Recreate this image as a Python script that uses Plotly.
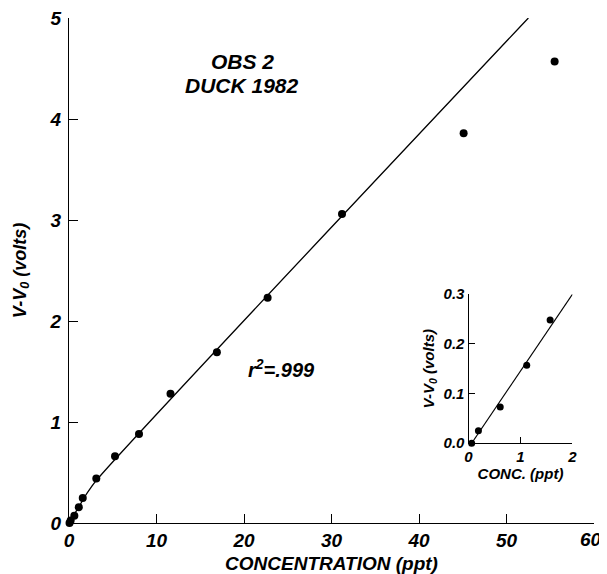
import plotly.graph_objects as go

# ---- data ----
conc = [0.06, 0.19, 0.61, 1.12, 1.57, 3.12, 5.26, 8.0, 11.6, 16.9, 22.7, 31.2, 45.1, 55.5]
volts = [0.0, 0.025, 0.073, 0.157, 0.248, 0.44, 0.66, 0.88, 1.28, 1.69, 2.23, 3.06, 3.86, 4.57]

fit_x = [0.0, 0.6, 1.2, 1.8, 2.5, 3.2, 52.5]
fit_y = [0.0, 0.085, 0.17, 0.26, 0.35, 0.43, 5.0]

inset_conc = [0.06, 0.19, 0.61, 1.12, 1.57]
inset_volts = [0.0, 0.025, 0.073, 0.157, 0.248]
inset_fit_x = [0.06, 2.0]
inset_fit_y = [0.0, 0.30]

x_ticks = [0, 10, 20, 30, 40, 50, 60]
x_labels = ["0", "10", "20", "30", "40", "50", "60"]
y_ticks = [0, 1, 2, 3, 4, 5]
inset_x_ticks = [0, 1, 2]
inset_y_ticks = [0.0, 0.1, 0.2, 0.3]
inset_y_labels = ["0.0", "0.1", "0.2", "0.3"]

FONT = "Liberation Sans, Arial, sans-serif"


def f(size):
    return dict(family=FONT, size=size, color="black", weight="bold", style="italic")


fig = go.Figure()
fig.add_trace(go.Scatter(x=fit_x, y=fit_y, mode="lines",
                         line=dict(color="black", width=1.3), line_shape="spline",
                         showlegend=False, hoverinfo="skip"))
fig.add_trace(go.Scatter(x=conc, y=volts, mode="markers",
                         marker=dict(color="black", size=8),
                         showlegend=False, cliponaxis=False))
fig.add_trace(go.Scatter(x=inset_fit_x, y=inset_fit_y, mode="lines",
                         line=dict(color="black", width=1.2),
                         xaxis="x2", yaxis="y2", showlegend=False))
fig.add_trace(go.Scatter(x=inset_conc, y=inset_volts, mode="markers",
                         marker=dict(color="black", size=7),
                         xaxis="x2", yaxis="y2", showlegend=False, cliponaxis=False))

# the last x label sits at the right edge; draw it as an annotation nudged inward
shown_x_labels = x_labels[:-1] + [""]

# the page body adds an 8px margin, so the figure is 8px smaller than the window
fig.update_layout(
    template="none",
    width=599, height=566,
    margin=dict(l=61, r=13, t=10, b=51, pad=0),
    paper_bgcolor="white", plot_bgcolor="white",
    font=dict(family=FONT, color="black", weight="bold", style="italic"),
    xaxis=dict(range=[0, 60], tickvals=x_ticks, ticktext=shown_x_labels,
               ticks="inside", ticklen=9,
               tickcolor="black", showline=True, linecolor="black", linewidth=1.3,
               showgrid=False, zeroline=False, tickfont=f(19),
               ticklabeloverflow="allow", automargin=False,
               title=dict(text="CONCENTRATION (ppt)", font=f(19), standoff=10)),
    yaxis=dict(range=[0, 5], tickvals=y_ticks, ticks="inside", ticklen=9,
               tickcolor="black", showline=True, linecolor="black", linewidth=1.3,
               showgrid=False, zeroline=False, tickfont=f(19),
               ticklabelstandoff=3, ticklabeloverflow="allow", automargin=False,
               title=dict(text="V-V<sub>0</sub> (volts)", font=f(18), standoff=18)),
    xaxis2=dict(domain=[0.761, 0.959], anchor="y2", range=[0, 2], tickvals=inset_x_ticks,
                ticks="inside", ticklen=6, tickcolor="black", showline=True,
                linecolor="black", linewidth=1.2, showgrid=False, zeroline=False,
                tickfont=f(15), automargin=False,
                title=dict(text="CONC. (ppt)", font=f(15), standoff=1)),
    yaxis2=dict(domain=[0.158, 0.453], anchor="x2", range=[0, 0.3], tickvals=inset_y_ticks,
                ticktext=inset_y_labels,
                ticks="inside", ticklen=6, tickcolor="black", showline=True,
                linecolor="black", linewidth=1.2, showgrid=False, zeroline=False,
                tickfont=f(15), automargin=False,
                title=dict(text="V-V<sub>0</sub> (volts)", font=f(15), standoff=5)),
    annotations=[
        dict(text=x_labels[-1], x=x_ticks[-1], y=0, xref="x", yref="y", showarrow=False,
             xanchor="right", yanchor="top", xshift=10, yshift=-4, font=f(19)),
        dict(text="OBS 2", x=19.8, y=4.57, xref="x", yref="y", showarrow=False, font=f(21)),
        dict(text="DUCK 1982", x=19.8, y=4.33, xref="x", yref="y", showarrow=False, font=f(21)),
        dict(text="r<sup>2</sup>=.999", x=24.3, y=1.53, xref="x", yref="y", showarrow=False,
             font=f(20)),
    ],
)

fig.write_html("out.html")
